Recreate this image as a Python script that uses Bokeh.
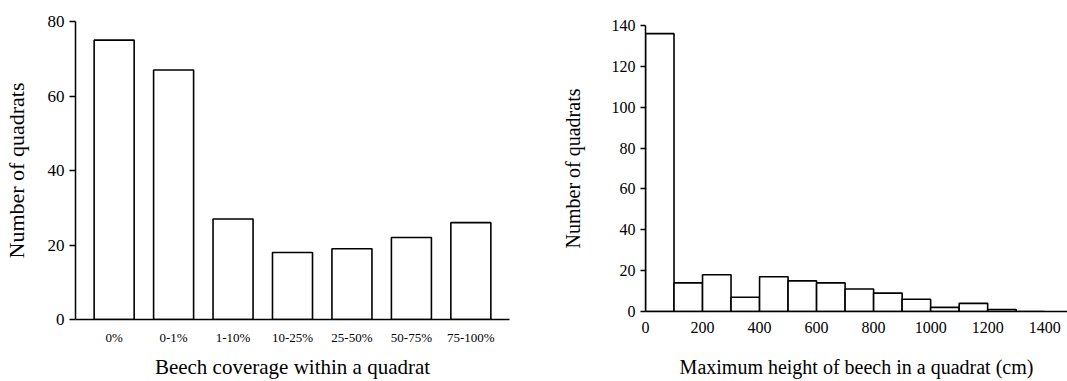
from bokeh.plotting import figure
from bokeh.layouts import row, column
from bokeh.models import Range1d, FactorRange, FixedTicker
from bokeh.embed import file_html
from bokeh.resources import INLINE

# Beech coverage classes and number of quadrats in each
coverage_classes = ["0%", "0-1%", "1-10%", "10-25%", "25-50%", "50-75%", "75-100%"]
coverage_counts = [75, 67, 27, 18, 19, 22, 26]

# Maximum beech height per quadrat, 100 cm bins
height_bin_start = [0, 100, 200, 300, 400, 500, 600, 700, 800, 900, 1000, 1100, 1200, 1300]
height_bin_end = [100, 200, 300, 400, 500, 600, 700, 800, 900, 1000, 1100, 1200, 1300, 1400]
height_counts = [136, 14, 18, 7, 17, 15, 14, 11, 9, 6, 2, 4, 1, 0]

SERIF = "Liberation Serif"


def style_axes(p, tick_size, title_size):
    p.grid.visible = False
    p.outline_line_color = None
    for ax in (p.xaxis[0], p.yaxis[0]):
        ax.axis_line_color = "black"
        ax.axis_line_width = 1.5
        ax.major_tick_line_color = "black"
        ax.major_tick_line_width = 1.5
        ax.minor_tick_line_color = None
        ax.major_label_text_font = SERIF
        ax.major_label_text_font_size = tick_size
        ax.major_label_text_color = "black"
        ax.axis_label_text_font = SERIF
        ax.axis_label_text_font_size = title_size
        ax.axis_label_text_font_style = "normal"
        ax.axis_label_text_color = "black"
    p.yaxis.major_tick_in = 0
    p.yaxis.major_tick_out = 6
    p.xaxis.major_tick_in = 0
    p.xaxis.major_tick_out = 0


# Left: coverage classes
p1 = figure(
    width=540, height=381,
    x_range=FactorRange(*coverage_classes, range_padding=0.3 / 7),
    y_range=Range1d(0, 80),
    output_backend="svg", toolbar_location=None,
    min_border_left=73, min_border_right=31, min_border_top=21, min_border_bottom=61,
)
p1.vbar(x=coverage_classes, top=coverage_counts, width=0.673, bottom=0,
        fill_color="white", line_color="black", line_width=1.6)
style_axes(p1, "17px", "21px")
p1.yaxis.ticker = FixedTicker(ticks=[0, 20, 40, 60, 80])
p1.xaxis.major_label_text_font_size = "13px"
p1.xaxis.major_label_standoff = 10
p1.xaxis.axis_label = "Beech coverage within a quadrat"
p1.xaxis.axis_label_standoff = 7
p1.yaxis.axis_label = "Number of quadrats"
p1.yaxis.axis_label_text_font_size = "22px"
p1.yaxis.axis_label_standoff = 16

# Right: height histogram
p2 = figure(
    width=527, height=381,
    x_range=Range1d(0, 1480), y_range=Range1d(0, 140),
    output_backend="svg", toolbar_location=None,
    min_border_left=105, min_border_right=0, min_border_top=25, min_border_bottom=70,
)
p2.quad(left=height_bin_start, right=height_bin_end, bottom=0, top=height_counts,
        fill_color="white", line_color="black", line_width=1.6)
style_axes(p2, "16px", "20px")
p2.yaxis.ticker = FixedTicker(ticks=[0, 20, 40, 60, 80, 100, 120, 140])
p2.xaxis.ticker = FixedTicker(ticks=[0, 200, 400, 600, 800, 1000, 1200, 1400])
p2.yaxis.major_tick_out = 5
p2.xaxis.major_label_standoff = 10
p2.xaxis.axis_label = "Maximum height of beech in a quadrat (cm)"
p2.xaxis.axis_label_standoff = 20
p2.yaxis.axis_label = "Number of quadrats"
p2.yaxis.axis_label_standoff = 25

# Each panel sits in its own column so their frames are laid out independently
layout = row(column(p1), column(p2))
open("out.html", "w").write(file_html(layout, INLINE))
